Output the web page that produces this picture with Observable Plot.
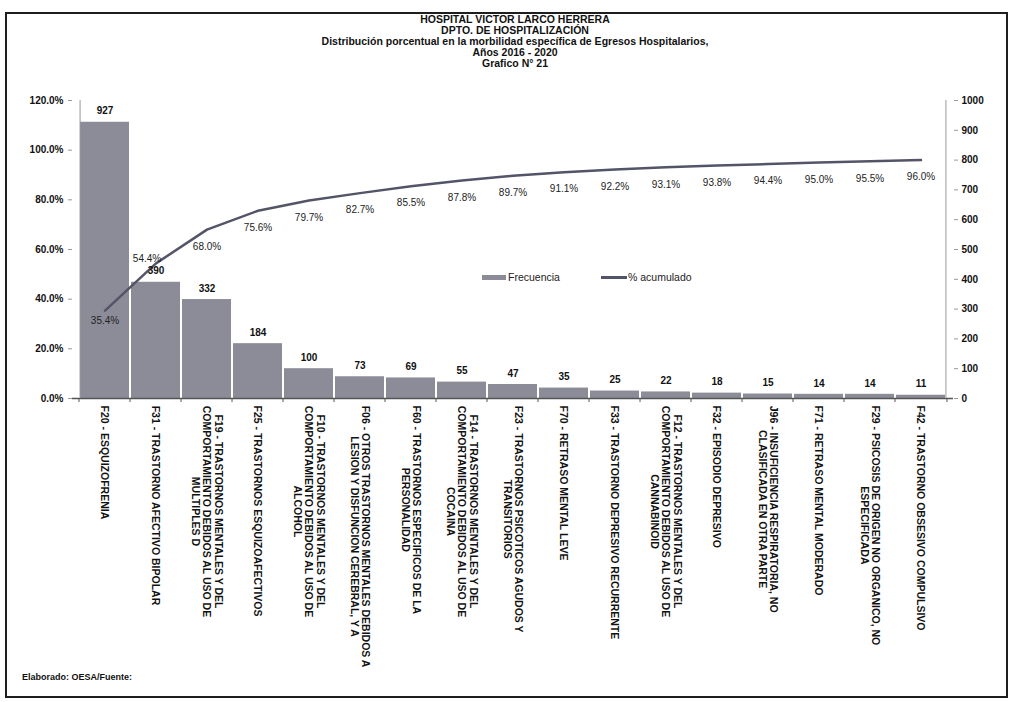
<!DOCTYPE html>
<html>
<head>
<meta charset="utf-8">
<script src="https://cdn.jsdelivr.net/npm/d3@7"></script>
<script src="https://cdn.jsdelivr.net/npm/@observablehq/plot@0.6"></script>
<style>
  body { margin: 0; background: #fff; font-family: "Liberation Sans", Arial, sans-serif; }
  #wrap { position: relative; width: 1012px; height: 702px; overflow: hidden; background: #fff; }
  #frame { position: absolute; left: 5px; top: 12px; width: 1003px; height: 686px; border: 2px solid #1e1e1e; box-sizing: border-box; pointer-events: none; }
  #title { position: absolute; left: 0; top: 14px; width: 1030px; text-align: center; font-weight: bold; font-size: 10.5px; line-height: 11px; color: #111; }
  #chart { position: absolute; left: 0; top: 80px; }
  .leg { position: absolute; font-size: 10.5px; color: #222; line-height: 12px; }
  .sw { position: absolute; }
  #footer { position: absolute; left: 22px; top: 672px; font-weight: bold; font-size: 9px; color: #111; }
</style>
</head>
<body>
<div id="wrap">
  <div id="title"></div>
  <div id="chart"></div>
  <div id="legend"></div>
  <div id="footer"></div>
  <div id="frame"></div>
</div>
<script>
// ---- data ----
const titleLines = [
  "HOSPITAL VICTOR LARCO HERRERA",
  "DPTO. DE HOSPITALIZACIÓN",
  "Distribución porcentual en la morbilidad específica de Egresos Hospitalarios,",
  "Años 2016 - 2020",
  "Grafico N° 21"
];
const codes = ["F20","F31","F19","F25","F10","F06","F60","F14","F23","F70","F33","F12","F32","J96","F71","F29","F42"];
const labelLines = [
  ["F20 - ESQUIZOFRENIA"],
  ["F31 - TRASTORNO AFECTIVO BIPOLAR"],
  ["F19 - TRASTORNOS MENTALES Y DEL", "COMPORTAMIENTO DEBIDOS AL USO DE", "MULTIPLES D"],
  ["F25 - TRASTORNOS ESQUIZOAFECTIVOS"],
  ["F10 - TRASTORNOS MENTALES Y DEL", "COMPORTAMIENTO DEBIDOS AL USO DE", "ALCOHOL"],
  ["F06 - OTROS TRASTORNOS MENTALES DEBIDOS A", "LESION Y DISFUNCION CEREBRAL, Y A"],
  ["F60 - TRASTORNOS ESPECIFICOS DE LA", "PERSONALIDAD"],
  ["F14 - TRASTORNOS MENTALES Y DEL", "COMPORTAMIENTO DEBIDOS AL USO DE", "COCAINA"],
  ["F23 - TRASTORNOS PSICOTICOS AGUDOS Y", "TRANSITORIOS"],
  ["F70 - RETRASO MENTAL LEVE"],
  ["F33 - TRASTORNO DEPRESIVO RECURRENTE"],
  ["F12 - TRASTORNOS MENTALES Y DEL", "COMPORTAMIENTO DEBIDOS AL USO DE", "CANNABINOID"],
  ["F32 - EPISODIO DEPRESIVO"],
  ["J96 - INSUFICIENCIA RESPIRATORIA, NO", "CLASIFICADA EN OTRA PARTE"],
  ["F71 - RETRASO MENTAL MODERADO"],
  ["F29 - PSICOSIS DE ORIGEN NO ORGANICO, NO", "ESPECIFICADA"],
  ["F42 - TRASTORNO OBSESIVO COMPULSIVO"]
];
const counts = [927, 390, 332, 184, 100, 73, 69, 55, 47, 35, 25, 22, 18, 15, 14, 14, 11];
const cumPct = [35.4, 54.4, 68.0, 75.6, 79.7, 82.7, 85.5, 87.8, 89.7, 91.1, 92.2, 93.1, 93.8, 94.4, 95.0, 95.5, 96.0];
const leftTicks = [0, 20, 40, 60, 80, 100, 120];      // % (left axis)
const rightTicks = [0, 100, 200, 300, 400, 500, 600, 700, 800, 900, 1000]; // frecuencia (right axis)
const legendLabels = ["Frecuencia", "% acumulado"];
const footerText = "Elaborado: OESA/Fuente:";

// ---- layout ----
const W = 1012, H = 622, ML = 72, MR = 59, MT = 20, MB = 304;
const PAD = 0.04;
const n = codes.length;
const step = (W - ML - MR) / (n - PAD);
const barColor = "#8b8c98", lineColor = "#545468";
const maxCount = rightTicks[rightTicks.length - 1];
const maxPct = leftTicks[leftTicks.length - 1];

const rows = codes.map((c, i) => ({
  code: c, count: counts[i], pct: cumPct[i], label: labelLines[i].join("\n"), nl: labelLines[i]
}));
const pctToY = p => p / maxPct * maxCount;

document.getElementById("title").innerHTML = titleLines.map(t => `<div>${t}</div>`).join("");
document.getElementById("footer").textContent = footerText;

const LBL_FONT = 10.5;
const ctx = document.createElement("canvas").getContext("2d");
ctx.font = `bold ${LBL_FONT}px 'Liberation Sans'`;
const labelMarks = rows.map(r => {
  const maxW = d3.max(r.nl, s => ctx.measureText(s).width);
  return Plot.text([r], {
    x: "code", text: "label", frameAnchor: "bottom", rotate: 90,
    textAnchor: "middle", lineAnchor: "middle", lineHeight: 1.1,
    dy: 7 + maxW / 2, fontSize: LBL_FONT, fontWeight: "bold", fill: "#111"
  });
});

const chart = Plot.plot({
  width: W, height: H,
  marginLeft: ML, marginRight: MR, marginTop: MT, marginBottom: MB,
  style: { fontFamily: "'Liberation Sans', Arial, sans-serif", background: "transparent", overflow: "visible" },
  x: { type: "band", domain: codes, paddingInner: PAD, paddingOuter: 0, axis: null },
  y: { domain: [0, maxCount], axis: null },
  marks: [
    Plot.barY(rows, { x: "code", y: "count", fill: barColor }),
    // axis lines
    Plot.ruleY([0], { stroke: "#555", strokeWidth: 1.5 }),
    Plot.ruleX([codes[0]], { x: d => d, dx: -step * (1 - PAD) / 2, y1: 0, y2: maxCount, stroke: "#999" }),
    Plot.ruleX([codes[n - 1]], { x: d => d, dx: step * (1 - PAD) / 2, y1: 0, y2: maxCount, stroke: "#999" }),
    Plot.ruleX(codes, { x: d => d, dx: -step / 2, y1: 0, y2: 0, insetBottom: -4, stroke: "#555" }),
    Plot.ruleX([codes[n - 1]], { x: d => d, dx: step / 2, y1: 0, y2: 0, insetBottom: -4, stroke: "#555" }),
    Plot.axisY({
      anchor: "left", label: null, ticks: leftTicks.map(pctToY),
      tickFormat: d => (d / maxCount * maxPct).toFixed(1) + "%",
      tickSize: 4, tickPadding: 5, fontSize: 10, fontWeight: "bold", stroke: "#999", color: "#111"
    }),
    Plot.axisY({
      anchor: "right", label: null, ticks: rightTicks, tickFormat: d => String(d),
      tickSize: 4, tickPadding: 4, fontSize: 10, fontWeight: "bold", stroke: "#999", color: "#111"
    }),
    // cumulative line
    Plot.line(rows, { x: "code", y: d => pctToY(d.pct), stroke: lineColor, strokeWidth: 2.5 }),
    // count labels
    Plot.text(rows, { x: "code", y: "count", text: d => String(d.count), dy: -11, fontSize: 10, fontWeight: "bold", fill: "#111" }),
    // percentage labels
    Plot.text(rows.slice(0, 1), { x: "code", y: d => pctToY(d.pct), text: d => d.pct.toFixed(1) + "%", dy: 10, fontSize: 10, fill: "#222" }),
    Plot.text(rows.slice(1, 2), { x: "code", y: d => pctToY(d.pct), text: d => d.pct.toFixed(1) + "%", dx: -9, dy: -5, fontSize: 10, fill: "#222" }),
    Plot.text(rows.slice(2), { x: "code", y: d => pctToY(d.pct), text: d => d.pct.toFixed(1) + "%", dy: 17, fontSize: 10, fill: "#222" }),
    ...labelMarks
  ]
});
document.getElementById("chart").appendChild(chart);

// legend (inside plot area)
const leg = document.getElementById("legend");
leg.innerHTML = `
  <div class="sw" style="left:482px;top:275px;width:24px;height:5px;background:${barColor}"></div>
  <div class="leg" style="left:508px;top:271px">${legendLabels[0]}</div>
  <div class="sw" style="left:601px;top:276px;width:26px;height:3px;background:${lineColor}"></div>
  <div class="leg" style="left:628px;top:271px">${legendLabels[1]}</div>`;
</script>
</body>
</html>
